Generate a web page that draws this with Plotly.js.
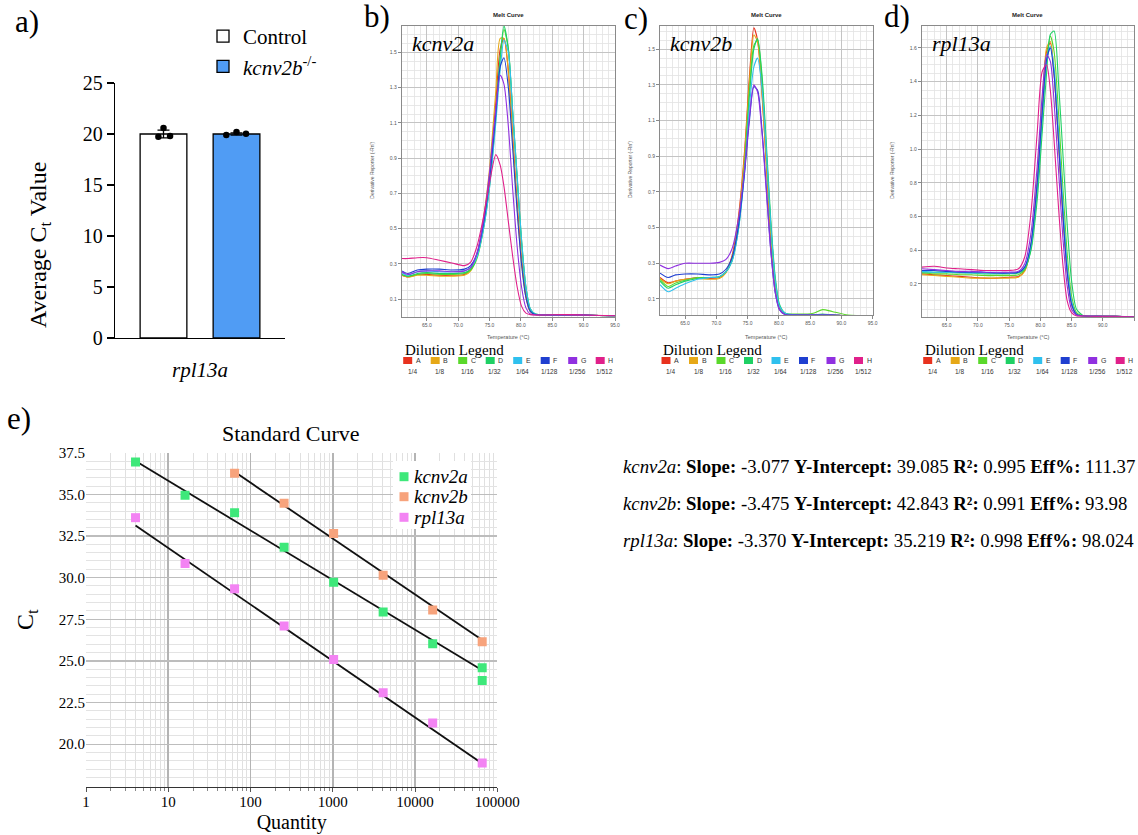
<!DOCTYPE html>
<html><head><meta charset="utf-8">
<script src="https://cdn.plot.ly/plotly-3.0.1.min.js"></script>
<style>html,body{margin:0;padding:0;background:#fff;}#chart{width:1138px;height:835px;}</style>
</head><body><div id="chart"></div>
<script>
// ---------- Panel a: average Ct ----------
const barGroups = ['Control', '<i>kcnv2b</i><sup>-/-</sup>'];
const barMeans = [20.0, 20.0];
const barErrors = [0.38, 0.12];
const barColors = ['#ffffff', '#509cf4'];
const controlReps = [19.73, 20.59, 19.80];
const mutantReps = [19.90, 20.20, 20.02];
const controlJitter = [-0.07, 0.0, 0.09];
const mutantJitter = [-0.14, 0.0, 0.13];
const barTickLabel = ['<i>rpl13a</i>'];

// ---------- Melt curves ----------
const dilutionLetters = ['A','B','C','D','E','F','G','H'];
const dilutionFractions = ['1/4','1/8','1/16','1/32','1/64','1/128','1/256','1/512'];
const dilutionColors = ['#e8321e','#e6a817','#5ad82a','#1fd064','#2fc0ee','#1f3fd0','#9030e0','#e0208a'];

const kcnv2aTemp = [61,62,63.5,65,67,69,71,72,73,74,75,76,76.7,77.3,78,78.7,79.4,80.1,80.8,81.5,82.3,84,87,90,95];
const kcnv2aMelt = [
  [0.235,0.225,0.24,0.24,0.235,0.235,0.24,0.27,0.35,0.53,0.80,1.22,1.52,1.58,1.40,1.02,0.65,0.33,0.12,0.03,0.012,0.01,0.01,0.01,0.005],
  [0.235,0.225,0.235,0.235,0.23,0.23,0.235,0.26,0.35,0.55,0.84,1.28,1.58,1.58,1.38,1.00,0.62,0.31,0.11,0.03,0.012,0.01,0.01,0.01,0.005],
  [0.24,0.23,0.24,0.245,0.24,0.24,0.245,0.265,0.33,0.49,0.74,1.13,1.46,1.63,1.52,1.16,0.80,0.44,0.17,0.045,0.015,0.01,0.01,0.01,0.005],
  [0.24,0.23,0.245,0.25,0.245,0.245,0.25,0.27,0.34,0.50,0.75,1.15,1.48,1.65,1.52,1.15,0.78,0.42,0.16,0.04,0.015,0.01,0.01,0.01,0.005],
  [0.25,0.235,0.255,0.26,0.255,0.255,0.26,0.28,0.34,0.49,0.73,1.10,1.40,1.57,1.50,1.16,0.80,0.44,0.17,0.045,0.015,0.01,0.01,0.01,0.005],
  [0.26,0.245,0.265,0.27,0.27,0.265,0.27,0.29,0.36,0.52,0.78,1.15,1.42,1.47,1.30,0.95,0.60,0.30,0.11,0.03,0.012,0.01,0.01,0.01,0.005],
  [0.255,0.24,0.255,0.26,0.26,0.255,0.26,0.28,0.36,0.54,0.82,1.18,1.37,1.32,1.08,0.72,0.40,0.17,0.05,0.015,0.01,0.01,0.01,0.01,0.005],
  [0.33,0.33,0.335,0.335,0.32,0.305,0.29,0.31,0.40,0.56,0.76,0.92,0.86,0.74,0.54,0.34,0.17,0.06,0.02,0.012,0.01,0.01,0.012,0.01,0.005]
];

const kcnv2bTemp = [61,62.3,63.5,65,67,69,70.5,71.5,72.5,73.5,74.5,75.3,76,76.6,77.3,78,78.7,79.4,80.1,81,83,85.5,87,88.5,91,95];
const kcnv2bMelt = [
  [0.22,0.19,0.20,0.21,0.22,0.215,0.22,0.25,0.34,0.55,0.92,1.35,1.62,1.55,1.25,0.85,0.45,0.17,0.05,0.015,0.01,0.01,0.01,0.01,0.005,0.005],
  [0.215,0.185,0.20,0.21,0.215,0.21,0.215,0.245,0.33,0.53,0.90,1.32,1.58,1.54,1.26,0.86,0.46,0.18,0.05,0.015,0.01,0.01,0.01,0.01,0.005,0.005],
  [0.21,0.17,0.19,0.205,0.22,0.22,0.225,0.25,0.32,0.50,0.85,1.27,1.52,1.55,1.33,0.93,0.52,0.21,0.06,0.02,0.015,0.02,0.04,0.03,0.01,0.005],
  [0.20,0.16,0.18,0.20,0.215,0.22,0.225,0.25,0.31,0.48,0.82,1.24,1.50,1.56,1.36,0.97,0.55,0.23,0.07,0.02,0.01,0.01,0.015,0.01,0.005,0.005],
  [0.18,0.14,0.16,0.185,0.21,0.22,0.225,0.25,0.31,0.48,0.80,1.18,1.40,1.45,1.28,0.92,0.52,0.21,0.06,0.02,0.01,0.01,0.01,0.01,0.005,0.005],
  [0.245,0.22,0.235,0.24,0.24,0.235,0.24,0.265,0.33,0.50,0.80,1.10,1.29,1.27,1.05,0.72,0.38,0.14,0.04,0.012,0.01,0.01,0.01,0.01,0.005,0.005],
  [0.29,0.27,0.285,0.30,0.30,0.30,0.305,0.32,0.38,0.54,0.82,1.12,1.30,1.26,1.03,0.70,0.37,0.14,0.04,0.012,0.01,0.01,0.01,0.01,0.005,0.005]
];

const rpl13aTemp = [61,63,65,67,69,71,73,75,76.5,77.5,78.5,79.5,80.3,81,81.6,82.2,82.9,83.6,84.3,85,85.8,87,89,92,95];
const rpl13aMelt = [
  [0.26,0.255,0.25,0.245,0.24,0.235,0.235,0.24,0.245,0.28,0.43,0.80,1.25,1.58,1.63,1.45,1.05,0.62,0.28,0.09,0.02,0.01,0.008,0.008,0.005],
  [0.255,0.25,0.245,0.24,0.235,0.235,0.235,0.235,0.24,0.275,0.43,0.82,1.27,1.60,1.64,1.45,1.05,0.62,0.27,0.08,0.02,0.01,0.008,0.008,0.005],
  [0.265,0.26,0.26,0.255,0.255,0.25,0.25,0.25,0.255,0.285,0.41,0.75,1.18,1.52,1.67,1.58,1.22,0.78,0.38,0.13,0.03,0.01,0.008,0.008,0.005],
  [0.27,0.27,0.27,0.265,0.265,0.26,0.26,0.26,0.265,0.29,0.40,0.70,1.10,1.45,1.68,1.70,1.40,0.98,0.55,0.22,0.05,0.01,0.008,0.008,0.005],
  [0.275,0.27,0.27,0.27,0.265,0.265,0.265,0.265,0.27,0.30,0.43,0.78,1.20,1.52,1.61,1.48,1.10,0.68,0.31,0.10,0.02,0.01,0.008,0.008,0.005],
  [0.28,0.28,0.275,0.27,0.27,0.27,0.265,0.265,0.27,0.30,0.44,0.80,1.22,1.53,1.60,1.44,1.05,0.62,0.27,0.08,0.02,0.01,0.01,0.008,0.005],
  [0.29,0.285,0.28,0.275,0.275,0.27,0.27,0.27,0.275,0.32,0.50,0.90,1.32,1.56,1.52,1.28,0.88,0.48,0.19,0.05,0.015,0.01,0.008,0.008,0.005],
  [0.30,0.305,0.295,0.29,0.285,0.28,0.28,0.28,0.29,0.36,0.62,1.10,1.46,1.50,1.35,1.05,0.66,0.32,0.10,0.03,0.01,0.01,0.008,0.008,0.005]
];
const meltGenes = ['kcnv2a','kcnv2b','rpl13a'];
const meltYTicks = [[0.1,0.3,0.5,0.7,0.9,1.1,1.3,1.5],[0.1,0.3,0.5,0.7,0.9,1.1,1.3,1.5],[0.2,0.4,0.6,0.8,1.0,1.2,1.4,1.6]];
const meltXTicks = [65,70,75,80,85,90,95];

// ---------- Panel e: standard curve ----------
const kcnv2aQty = [4,16,64,256,1024,4096,16384,65536,65536];
const kcnv2aCt = [36.94,34.94,33.90,31.83,29.73,27.93,26.03,24.59,23.82];
const kcnv2bQty = [64,256,1024,4096,16384,65536];
const kcnv2bCt = [36.26,34.46,32.65,30.15,28.05,26.15];
const rpl13aQty = [4,16,64,256,1024,4096,16384,65536];
const rpl13aCt = [33.60,30.85,29.33,27.09,25.09,23.09,21.28,18.88];
const kcnv2aFitQty = [4,65536], kcnv2aFitCt = [37.0,24.44];
const kcnv2bFitQty = [64,65536], kcnv2bFitCt = [36.35,26.25];
const rpl13aFitQty = [4,65536], rpl13aFitCt = [33.13,18.84];
const stdColors = ['#3ee87a','#f7a37c','#f383f3'];
const stdXTicks = [1,10,100,1000,10000,100000];
const stdYTicks = [20,22.5,25,27.5,30,32.5,35,37.5];

const statGenes = ['kcnv2a','kcnv2b','rpl13a'];
const statSlopes = ['-3.077','-3.475','-3.370'];
const statIntercepts = ['39.085','42.843','35.219'];
const statR2 = ['0.995','0.991','0.998'];
const statEff = ['111.37','93.98','98.024'];

// ---------- helpers ----------
const W = 1138, H = 835;
const fx = p => p / W;
const fy = p => 1 - p / H;
const SERIF = 'Liberation Serif';
const SANS = 'Liberation Sans';
function note(text, x, y, font, extra) {
  return Object.assign({text: text, x: fx(x), y: fy(y), xref: 'paper', yref: 'paper', showarrow: false,
    xanchor: 'center', yanchor: 'middle', font: font}, extra || {});
}

const traces = [];
for (let i = 0; i < 2; i++) {
  traces.push({
    type: 'bar', x: [i], y: [barMeans[i]], width: 0.64, name: barGroups[i],
    marker: {color: barColors[i], line: {color: '#000', width: 1.3}},
    error_y: {type: 'data', array: [barErrors[i]], color: '#000', thickness: 1.3, width: 6},
    xaxis: 'x', yaxis: 'y', legend: 'legend', hoverinfo: 'skip'
  });
}
traces.push({type: 'scatter', mode: 'markers', x: controlJitter.map(j => 0 + j), y: controlReps,
  marker: {color: '#000', size: 6.5}, xaxis: 'x', yaxis: 'y', showlegend: false, hoverinfo: 'skip'});
traces.push({type: 'scatter', mode: 'markers', x: mutantJitter.map(j => 1 + j), y: mutantReps,
  marker: {color: '#000', size: 6.5}, xaxis: 'x', yaxis: 'y', showlegend: false, hoverinfo: 'skip'});

const meltSets = [[kcnv2aTemp, kcnv2aMelt], [kcnv2bTemp, kcnv2bMelt], [rpl13aTemp, rpl13aMelt]];
meltSets.forEach(([T, curves], p) => {
  curves.forEach((ys, i) => {
    traces.push({type: 'scatter', mode: 'lines', x: T, y: ys,
      line: {color: dilutionColors[i], width: 1.1, shape: 'spline', smoothing: 0.7},
      xaxis: 'x' + (p + 2), yaxis: 'y' + (p + 2), showlegend: false, hoverinfo: 'skip'});
  });
});

[[kcnv2aFitQty, kcnv2aFitCt], [kcnv2bFitQty, kcnv2bFitCt], [rpl13aFitQty, rpl13aFitCt]].forEach(([q, c]) => {
  traces.push({type: 'scatter', mode: 'lines', x: q, y: c, line: {color: '#111', width: 1.8},
    xaxis: 'x5', yaxis: 'y5', showlegend: false, hoverinfo: 'skip'});
});
[[kcnv2aQty, kcnv2aCt], [kcnv2bQty, kcnv2bCt], [rpl13aQty, rpl13aCt]].forEach(([q, c], i) => {
  traces.push({type: 'scatter', mode: 'markers', x: q, y: c, name: statGenes[i],
    marker: {symbol: 'square', size: 9, color: stdColors[i]},
    xaxis: 'x5', yaxis: 'y5', showlegend: false, hoverinfo: 'skip'});
});

const meltDomains = [
  {x: [401.7, 615], y: [316.7, 26], yr: [0, 1.65]},
  {x: [660, 872.7], y: [315, 26], yr: [0.01, 1.63]},
  {x: [921.7, 1134], y: [316.7, 26], yr: [0.006, 1.73]}
];

const layout = {
  width: W, height: H, margin: {l: 0, r: 0, t: 0, b: 0},
  paper_bgcolor: '#fff', plot_bgcolor: '#fff', barmode: 'overlay',
  font: {family: SERIF, color: '#000'},
  xaxis: {domain: [fx(115), fx(285)], range: [-0.664, 1.664], anchor: 'y',
    showline: true, linecolor: '#000', linewidth: 1.3, showgrid: false, zeroline: false,
    tickvals: [0.5], ticktext: barTickLabel, ticks: '', ticklabelstandoff: 12,
    tickfont: {family: SERIF, size: 21, color: '#000'}},
  yaxis: {domain: [fy(338), fy(83)], range: [0, 25], anchor: 'x', dtick: 5,
    showline: true, linecolor: '#000', linewidth: 1.3, showgrid: false, zeroline: false,
    ticks: 'outside', ticklen: 7, tickwidth: 1.3, tickcolor: '#000',
    tickfont: {family: SERIF, size: 20, color: '#000'}},
  legend: {x: fx(203), y: fy(16), xanchor: 'left', yanchor: 'top', bgcolor: 'rgba(0,0,0,0)',
    font: {family: SERIF, size: 21, color: '#000'}, itemwidth: 30, tracegroupgap: 0},
  xaxis5: {domain: [fx(86), fx(497.3)], type: 'log', range: [0, 5], anchor: 'y5',
    tickvals: stdXTicks, ticktext: stdXTicks.map(String), tickfont: {family: SERIF, size: 15, color: '#000'},
    showline: true, linecolor: '#333', linewidth: 1.2, ticks: 'outside', ticklen: 4, tickcolor: '#555',
    ticklabelstandoff: -3,
    showgrid: true, gridcolor: '#b4b4b4', gridwidth: 1.6, zeroline: false,
    minor: {dtick: 'D1', showgrid: true, gridcolor: '#e0e0e0', gridwidth: 1, ticks: 'outside', ticklen: 3, tickcolor: '#888'},
    title: {text: 'Quantity', font: {family: SERIF, size: 20}, standoff: 6}},
  yaxis5: {domain: [fy(786.7), fy(452.7)], range: [17.45, 37.5], anchor: 'x5',
    tickvals: stdYTicks, tickformat: '.1f', tickfont: {family: SERIF, size: 15, color: '#000'},
    showgrid: true, gridcolor: '#bdbdbd', gridwidth: 1.4, zeroline: false, showline: false, ticks: '',
    minor: {dtick: 0.5, tick0: 0, showgrid: true, gridcolor: '#e3e3e3', gridwidth: 1},
    title: {text: 'C<sub>t</sub>', font: {family: SERIF, size: 24}, standoff: 18}},
  shapes: [], annotations: []
};

meltDomains.forEach((d, p) => {
  const n = p + 2;
  layout['xaxis' + n] = {domain: [fx(d.x[0]), fx(d.x[1])], range: [61, 95], anchor: 'y' + n,
    tickvals: meltXTicks, tickformat: '.1f', tickfont: {family: SANS, size: 5, color: '#555'},
    showline: true, mirror: true, linecolor: '#8a8a8a', linewidth: 1, ticks: 'outside', ticklen: 3, tickcolor: '#888',
    showgrid: true, gridcolor: '#c4c4c4', gridwidth: 1, zeroline: false,
    minor: {dtick: 1, tick0: 61, showgrid: true, gridcolor: '#e2e2e2', gridwidth: 0.8}};
  layout['yaxis' + n] = {domain: [fy(d.y[0]), fy(d.y[1])], range: d.yr, anchor: 'x' + n,
    tickvals: meltYTicks[p], tickformat: '.1f', tickfont: {family: SANS, size: 5, color: '#555'},
    showline: true, mirror: true, linecolor: '#8a8a8a', linewidth: 1, ticks: 'outside', ticklen: 3, tickcolor: '#888',
    showgrid: true, gridcolor: '#c4c4c4', gridwidth: 1, zeroline: false,
    minor: {dtick: 0.05, tick0: 0, showgrid: true, gridcolor: '#e2e2e2', gridwidth: 0.8}};
  const cx = (d.x[0] + d.x[1]) / 2;
  layout.annotations.push(
    note('<b>Melt Curve</b>', cx, 15, {family: SANS, size: 6, color: '#222'}),
    note('<i>' + meltGenes[p] + '</i>', d.x[0] + 8, 43, {family: SERIF, size: 22}, {xanchor: 'left'}),
    note('Derivative Reporter (-Rn\')', d.x[0] - 30, 170, {family: SANS, size: 5, color: '#555'}, {textangle: -90}),
    note('Temperature (\u00b0C)', cx, 337, {family: SANS, size: 5.5, color: '#555'}),
    note('Dilution Legend', d.x[0] + 1, 350, {family: SERIF, size: 15}, {xanchor: 'left'})
  );
  const base = d.x[0] + 1.5;
  dilutionLetters.forEach((L, i) => {
    const x0 = base + i * 27.5;
    layout.shapes.push({type: 'rect', xref: 'paper', yref: 'paper', x0: fx(x0), x1: fx(x0 + 9),
      y0: fy(364), y1: fy(357), fillcolor: dilutionColors[i], line: {width: 0}});
    layout.annotations.push(
      note(L, x0 + 10.5, 360.5, {family: SANS, size: 7, color: '#333'}, {xanchor: 'left'}),
      note(dilutionFractions[i], x0 + 9, 371.5, {family: SANS, size: 6.5, color: '#333'})
    );
  });
});

// panel a y title (sits low, as in the figure)
layout.annotations.push(note('Average C<sub>t</sub> Value', 40, 245, {family: SERIF, size: 24}, {textangle: -90}));

[['a)', 27, 21], ['b)', 377, 17], ['c)', 636, 18], ['d)', 897, 17], ['e)', 19, 418]].forEach(([t, x, y]) => {
  layout.annotations.push(note(t, x, y, {family: SERIF, size: 31}));
});
layout.annotations.push(note('Standard Curve', 290, 433, {family: SERIF, size: 22}));

// standard-curve legend (inside plot, top right)
layout.shapes.push({type: 'rect', xref: 'paper', yref: 'paper', x0: fx(393), x1: fx(471), y0: fy(529), y1: fy(461),
  fillcolor: '#fff', line: {width: 0}, layer: 'above'});
[476.7, 496.7, 517.3].forEach((y, i) => {
  layout.shapes.push({type: 'rect', xref: 'paper', yref: 'paper', x0: fx(399.5), x1: fx(408.5), y0: fy(y + 4.5), y1: fy(y - 4.5),
    fillcolor: stdColors[i], line: {width: 0}, layer: 'above'});
  layout.annotations.push(note('<i>' + statGenes[i] + '</i>', 412, y, {family: SERIF, size: 19}, {xanchor: 'left'}));
});

[466.7, 503.3, 540].forEach((y, i) => {
  layout.annotations.push(note(
    '<i>' + statGenes[i] + '</i>: <b>Slope:</b> ' + statSlopes[i] + ' <b>Y-Intercept:</b> ' + statIntercepts[i] +
      ' <b>R\u00b2:</b> ' + statR2[i] + ' <b>Eff%:</b> ' + statEff[i],
    621, y, {family: SERIF, size: 18.8}, {xanchor: 'left'}));
});

Plotly.newPlot('chart', traces, layout, {staticPlot: true, displayModeBar: false});
</script></body></html>
